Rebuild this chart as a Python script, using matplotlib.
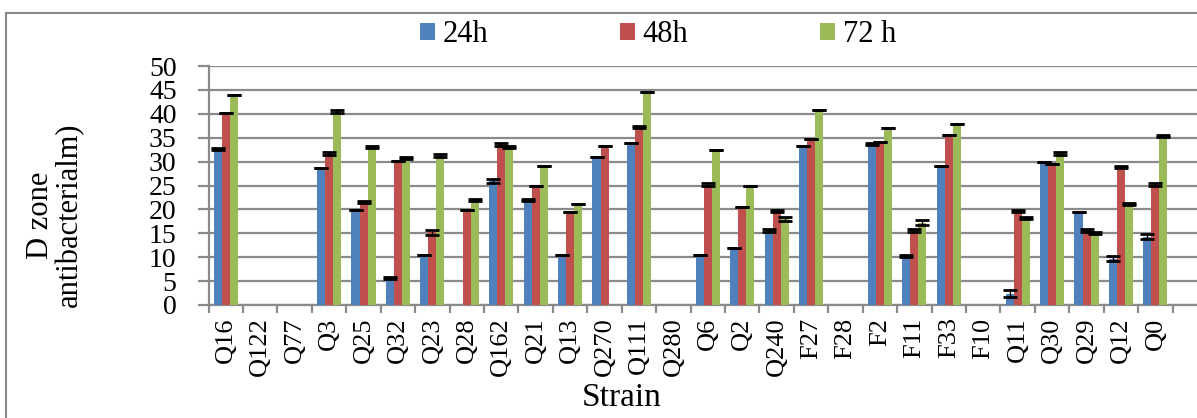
import numpy as np
import matplotlib
matplotlib.use("Agg")
import matplotlib.pyplot as plt
from matplotlib.lines import Line2D

plt.rcParams['font.family'] = ['Liberation Serif', 'DejaVu Serif']

# strains on the x axis
strains = ['Q16', 'Q122', 'Q77', 'Q3', 'Q25', 'Q32', 'Q23', 'Q28', 'Q162', 'Q21',
           'Q13', 'Q270', 'Q111', 'Q280', 'Q6', 'Q2', 'Q240', 'F27', 'F28', 'F2',
           'F11', 'F33', 'F10', 'Q11', 'Q30', 'Q29', 'Q12', 'Q0']

nan = np.nan
# inhibition zone diameters after 24, 48 and 72 h
zone_24h = [32.6, nan, nan, 28.7, 19.9, 5.7, 10.5, nan, 25.9, 22.0,
            10.5, 31.0, 33.8, nan, 10.5, 12.0, 15.6, 33.3, nan, 33.7,
            10.3, 29.1, nan, 2.4, 30.0, 19.5, 9.7, 14.3]
zone_48h = [40.2, nan, nan, 31.7, 21.6, 30.1, 15.2, 19.9, 33.6, 25.0,
            19.5, 33.3, 37.3, nan, 25.2, 20.4, 19.7, 34.7, nan, 34.2,
            15.6, 35.6, nan, 19.7, 29.6, 15.6, 28.9, 25.2]
zone_72h = [44.0, nan, nan, 40.5, 33.1, 30.7, 31.3, 22.0, 33.1, 29.1,
            21.2, nan, 44.5, nan, 32.4, 25.0, 18.0, 40.8, nan, 37.0,
            17.2, 37.9, nan, 18.2, 31.7, 15.0, 21.1, 35.4]

# standard errors
err_24h = [0.25, 0, 0, 0, 0, 0.25, 0, 0, 0.45, 0.25,
           0, 0, 0, 0, 0, 0, 0.25, 0, 0, 0.25,
           0.25, 0, 0, 0.75, 0, 0, 0.5, 0.5]
err_48h = [0, 0, 0, 0.25, 0.25, 0, 0.5, 0, 0.25, 0,
           0, 0, 0.25, 0, 0.25, 0, 0.25, 0, 0, 0,
           0.25, 0, 0, 0.25, 0, 0.25, 0.25, 0.25]
err_72h = [0, 0, 0, 0.25, 0.25, 0.25, 0.25, 0.25, 0.25, 0,
           0, 0, 0, 0, 0, 0, 0.5, 0, 0, 0,
           0.5, 0, 0, 0.25, 0.25, 0.25, 0.25, 0.25]

series = [('24h', zone_24h, err_24h, '#4F81BD'),
          ('48h', zone_48h, err_48h, '#C0504D'),
          ('72 h', zone_72h, err_72h, '#9BBB59')]

W, H = 1197, 418
fig = plt.figure(figsize=(W / 100, H / 100), dpi=100)
ax = fig.add_axes([208.6 / W, 1 - 305 / H, (W - 208.6) / W, 239 / H])

grid_col = '#8a8a8a'
x = np.arange(len(strains))
width = 0.233
handles = []
for i, (name, vals, errs, col) in enumerate(series):
    vals = np.array(vals, dtype=float)
    errs = np.array(errs, dtype=float)
    pos = x + (i - 1) * width
    ok = ~np.isnan(vals)
    b = ax.bar(pos[ok], vals[ok], width, color=col, zorder=3, label=name)
    ax.errorbar(pos[ok], vals[ok], yerr=errs[ok], fmt='none', ecolor='black',
                elinewidth=1.0, capsize=5, capthick=2.0, zorder=4)
    handles.append(b)

n_cat = len(strains)
ax.set_xlim(-0.5, -0.5 + (W - 208.6) / ((1172.6 - 208.6) / n_cat))
ax.set_ylim(0, 50)
ax.set_yticks(np.arange(0, 51, 5))
ax.yaxis.grid(True, color=grid_col, lw=1.6, zorder=0)
ax.set_axisbelow(True)

for s in ['top', 'right']:
    ax.spines[s].set_visible(False)
for s in ['left', 'bottom']:
    ax.spines[s].set_color(grid_col)
    ax.spines[s].set_linewidth(1.6)

ax.set_xticks(x)
ax.set_xticklabels(strains, rotation=90, fontsize=19)
ax.set_xticks(np.arange(-0.5, n_cat, 1), minor=True)
ax.tick_params(axis='x', which='major', length=0, pad=9)
ax.tick_params(axis='x', which='minor', length=6, width=1.6, color=grid_col, direction='out')
ax.tick_params(axis='y', length=8, width=1.6, color=grid_col, labelsize=20, pad=15)

fig.text(55 / W, 1 - 215 / H, 'D zone\nantibacterialm)', rotation=90,
         ha='center', va='center', fontsize=22, linespacing=1.0,
         multialignment='center')
fig.text(622 / W, 1 - 398 / H, 'Strain', ha='center', va='center', fontsize=24)

fig.legend(handles=handles, loc='center', bbox_to_anchor=(658 / W, 1 - 35 / H),
           ncol=3, frameon=False, fontsize=22, handlelength=0.5, handleheight=0.5,
           handletextpad=0.25, columnspacing=4.3)

# chart area border
fig.add_artist(Line2D([6 / W, 6 / W], [0, 1 - 13 / H], transform=fig.transFigure,
                      color=grid_col, lw=1.5))
fig.add_artist(Line2D([6 / W, 1], [1 - 13 / H, 1 - 13 / H], transform=fig.transFigure,
                      color=grid_col, lw=1.5))

fig.savefig('out.png', dpi=100)
